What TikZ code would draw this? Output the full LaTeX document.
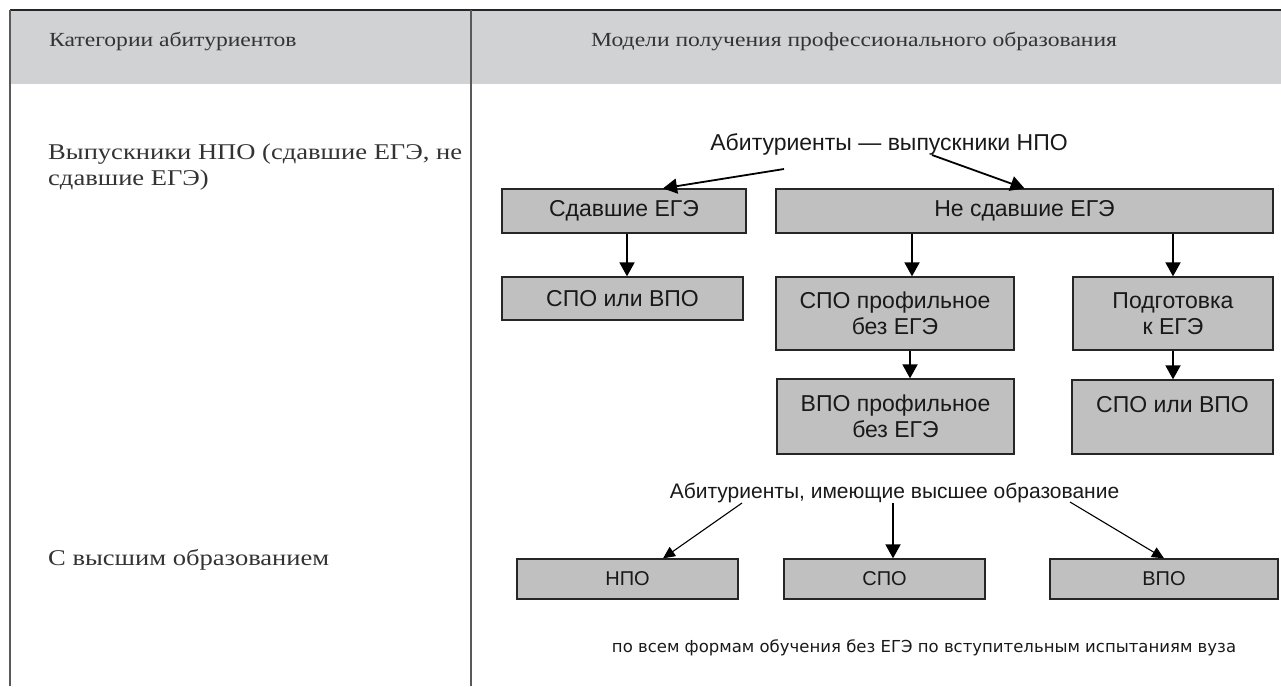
\documentclass[tikz,border=0pt]{standalone}
\usepackage{graphicx}
\usepackage{fontspec}
\setmainfont{Liberation Serif}
\setsansfont{Liberation Sans}
\newfontfamily\notefont{DejaVu Sans}
\usetikzlibrary{calc,arrows.meta}
\definecolor{headgray}{HTML}{D1D2D4}
\definecolor{boxgray}{HTML}{C0C0C0}
\newcommand{\widen}[1]{\scalebox{1.18}[1]{#1}}
\tikzset{
	box/.style={draw=black!85, line width=1.3pt, fill=boxgray, inner sep=0pt, align=center,
		font=\sffamily\fontsize{23}{26}\selectfont, text=black!90},
	lowbox/.style={box, font=\sffamily\fontsize{20}{24}\selectfont},
	lbl/.style={inner sep=0pt, font=\sffamily\fontsize{23}{26}\selectfont, text=black!90},
	hdtext/.style={inner sep=0pt, font=\fontsize{20}{24}\selectfont, text=black!80},
	lefttext/.style={inner sep=0pt, font=\fontsize{22.5}{26}\selectfont, text=black!80},
	arr/.style={line width=1.8pt, -{Triangle[length=14pt,width=15pt]}},
	thinarr/.style={line width=1.1pt, -{Triangle[length=12pt,width=11pt]}}
}

\begin{document}
\begin{tikzpicture}[x=1pt,y=-1pt]
			%%%%% TABLE %%%%%
			\useasboundingbox (0,0) rectangle (1281,686);
			\fill[headgray] (10,10) rectangle (1281,84);
			\draw[line width=2pt, color=black!85] (10,10) -- (1281,10);
			\draw[line width=2pt, color=black!65] (10,10) -- (10,686);
			\draw[line width=2pt, color=black!65] (471,10) -- (471,686);
			
			\node[hdtext, anchor=base west] (hdcat) at (49,46) {\widen{Категории абитуриентов}};
			\node[hdtext, anchor=base west] (hdmod) at (591,46) {\widen{Модели получения профессионального образования}};
			
			\node[lefttext, anchor=base west] (grads) at (48,159) {\widen{\begin{tabular}[t]{@{}l@{}}Выпускники НПО (сдавшие ЕГЭ, не\\сдавшие ЕГЭ)\end{tabular}}};
			\node[lefttext, anchor=base west] (higher) at (48,565) {\widen{С высшим образованием}};
			
			%%%%% NPO GRADUATES %%%%%
			\node[lbl, anchor=base] (topA) at (889,150) {Абитуриенты — выпускники НПО};
			
			\node[box, minimum width=244, minimum height=44] (passed) at (624,211) {Сдавшие ЕГЭ};
			\node[box, minimum width=497, minimum height=44] (notpassed) at (1024.5,211) {Не сдавшие ЕГЭ};
			
			\node[box, minimum width=241, minimum height=43] (spovpoA) at (622.5,298.5) {СПО или ВПО};
			\node[box, minimum width=238, minimum height=73] (spoprof) at (895,313.5) {СПО профильное\\без ЕГЭ};
			\node[box, minimum width=200, minimum height=73] (prep) at (1173,313.5) {Подготовка\\к ЕГЭ};
			
			\node[box, minimum width=237, minimum height=75] (vpoprof) at (895.5,416.5) {ВПО профильное\\без ЕГЭ};
			\node[box, minimum width=201, minimum height=74] (spovpoB) at (1172.5,417) {СПО или ВПО\\\mbox{}};
			
			\draw[arr] ($(topA.base)+(-105,19)$) -- ($(passed.north)+(39,0)$);
			\draw[arr] ($(topA.base)+(43,5)$) -- (notpassed.north);
			\draw[arr] ($(passed.south)+(3,0)$) -- ($(spovpoA.north)+(4.5,0)$);
			\draw[arr] ($(notpassed.south -| spoprof.north)+(17,0)$) -- ($(spoprof.north)+(17,0)$);
			\draw[arr] (notpassed.south -| prep.north) -- (prep.north);
			\draw[arr] ($(spoprof.south)+(15,0)$) -- ($(vpoprof.north)+(14.5,0)$);
			\draw[arr] (prep.south) -- (spovpoB.north -| prep.south);
			
			%%%%% HIGHER EDUCATION %%%%%
			\node[lbl, anchor=base, font=\sffamily\fontsize{21}{25}\selectfont] (topB) at (894.5,498) {Абитуриенты, имеющие высшее образование};
			
			\node[lowbox, minimum width=221, minimum height=40] (npo) at (627.5,579) {НПО};
			\node[lowbox, minimum width=201, minimum height=40] (spo) at (884.5,579) {СПО};
			\node[lowbox, minimum width=228, minimum height=40] (vpo) at (1164,579) {ВПО};
			
			\draw[thinarr] ($(topB.base)+(-152.5,5)$) -- ($(npo.north)+(35.5,0)$);
			\draw[arr] ($(topB.base)+(-1.5,5)$) -- ($(spo.north)+(8.5,0)$);
			\draw[thinarr] ($(topB.base)+(175.5,4)$) -- (vpo.north);
			
			\node[inner sep=0pt, font=\notefont\fontsize{16.5}{20}\selectfont, text=black!90, anchor=base] (note) at (924,652) {по всем формам обучения без ЕГЭ по вступительным испытаниям вуза};
			
			%%%%% END %%%%%
\end{tikzpicture}
\end{document}
